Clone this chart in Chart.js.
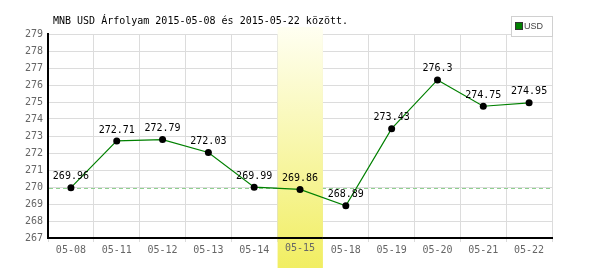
<!DOCTYPE html>
<html>
<head>
<meta charset="utf-8">
<script src="https://cdn.jsdelivr.net/npm/chart.js@4.4.1/dist/chart.umd.min.js"></script>
<style>
    html, body { margin: 0; padding: 0; background: #fff; }
    #wrap { width: 600px; height: 270px; }
</style>
</head>
<body>
<div id="wrap"><canvas id="chartUsd" width="600" height="270"></canvas></div>
<script>
const titulo = 'MNB USD Árfolyam 2015-05-08 és 2015-05-22 között.';
const datas = ['05-08', '05-11', '05-12', '05-13', '05-14', '05-15', '05-18', '05-19', '05-20', '05-21', '05-22'];
const usd = [269.96, 272.71, 272.79, 272.03, 269.99, 269.86, 268.89, 273.43, 276.3, 274.75, 274.95];
const yMin = 267;
const yMax = 279;
const diaDestaque = '05-15';

const MONO = '"DejaVu Sans Mono", monospace';

// fundo amarelo, linha tracejada e rótulos dos pontos
const extras = {
    id: 'extras',
    beforeDatasetsDraw: (chart) => {
        const { ctx, chartArea, scales } = chart;
        const x = scales.x, y = scales.y;
        const banda = (chartArea.right - chartArea.left) / datas.length;

        // linha de referência (primeiro valor)
        const yRef = y.getPixelForValue(usd[0]);
        ctx.save();
        ctx.strokeStyle = '#8fd08f';
        ctx.lineWidth = 1;
        ctx.setLineDash([4, 3]);
        ctx.beginPath();
        ctx.moveTo(chartArea.left + 1, Math.round(yRef) + 0.5);
        ctx.lineTo(chartArea.right, Math.round(yRef) + 0.5);
        ctx.stroke();
        ctx.restore();

        // destaque do dia
        const xc = x.getPixelForValue(datas.indexOf(diaDestaque));
        const x0 = xc - banda / 2, top = 27, bottom = 268;
        const grad = ctx.createLinearGradient(0, top, 0, bottom);
        grad.addColorStop(0, '#fffff2');
        grad.addColorStop(1, '#f1ee62');
        ctx.save();
        ctx.fillStyle = grad;
        ctx.fillRect(x0 + 0.5, top, banda - 0.5, bottom - top);

        // eixo inferior e rótulo por cima do destaque
        ctx.strokeStyle = '#000';
        ctx.lineWidth = 2;
        ctx.beginPath();
        ctx.moveTo(x0, chartArea.bottom);
        ctx.lineTo(x0 + banda, chartArea.bottom);
        ctx.stroke();
        ctx.fillStyle = '#666';
        ctx.font = '10px ' + MONO;
        ctx.textAlign = 'center';
        ctx.textBaseline = 'middle';
        ctx.fillText(diaDestaque, xc, 248);
        ctx.restore();
    },
    afterDatasetsDraw: (chart) => {
        const { ctx } = chart;
        const meta = chart.getDatasetMeta(0);
        ctx.save();
        ctx.fillStyle = '#000';
        ctx.font = '10px ' + MONO;
        ctx.textAlign = 'center';
        ctx.textBaseline = 'middle';
        meta.data.forEach((p, i) => {
            ctx.fillText(String(usd[i]), p.x, p.y - 11);
        });
        ctx.restore();
    },
    afterDraw: (chart) => {
        const { ctx } = chart;
        ctx.save();
        // título
        ctx.fillStyle = '#000';
        ctx.font = '10px ' + MONO;
        ctx.textAlign = 'left';
        ctx.textBaseline = 'middle';
        ctx.fillText(titulo, 53, 21);

        // legenda
        ctx.fillStyle = '#fff';
        ctx.fillRect(512, 16, 41, 21);
        ctx.strokeStyle = '#d0d0d0';
        ctx.lineWidth = 1;
        ctx.strokeRect(511.5, 16.5, 41, 20);
        ctx.fillStyle = '#008000';
        ctx.fillRect(516, 23, 6, 6);
        ctx.strokeStyle = '#333';
        ctx.strokeRect(515.5, 22.5, 7, 7);
        ctx.fillStyle = '#444';
        ctx.font = '9px "Liberation Sans", sans-serif';
        ctx.fillText('USD', 524, 26.5);
        ctx.restore();
    }
};

new Chart(document.getElementById('chartUsd'), {
    type: 'line',
    data: {
        labels: datas,
        datasets: [{
            label: 'USD',
            data: usd,
            borderColor: '#008000',
            borderWidth: 1.2,
            tension: 0,
            pointRadius: 3.5,
            pointBackgroundColor: '#000',
            pointBorderColor: '#000',
            pointBorderWidth: 0
        }]
    },
    options: {
        responsive: false,
        animation: false,
        events: [],
        layout: { padding: { top: 34, right: 48, left: 0, bottom: 0 } },
        plugins: { legend: { display: false }, title: { display: false }, tooltip: { enabled: false } },
        scales: {
            x: {
                offset: true,
                grid: { offset: true, color: '#dcdcdc', tickLength: 4, tickColor: '#dcdcdc' },
                border: { color: '#000', width: 2 },
                ticks: {
                    color: (c) => datas[c.index] === diaDestaque ? 'rgba(0,0,0,0)' : '#666',
                    font: { family: MONO, size: 10 },
                    padding: 2,
                    maxRotation: 0,
                    autoSkip: false
                },
                afterFit: (s) => { s.height = 32; }
            },
            y: {
                min: yMin,
                max: yMax,
                grid: { color: '#dcdcdc', drawTicks: false },
                border: { color: '#000', width: 2 },
                ticks: {
                    stepSize: 1,
                    color: '#666',
                    font: { family: MONO, size: 10 },
                    padding: 5
                },
                afterFit: (s) => { s.width = 48; }
            }
        }
    },
    plugins: [extras]
});
</script>
</body>
</html>
